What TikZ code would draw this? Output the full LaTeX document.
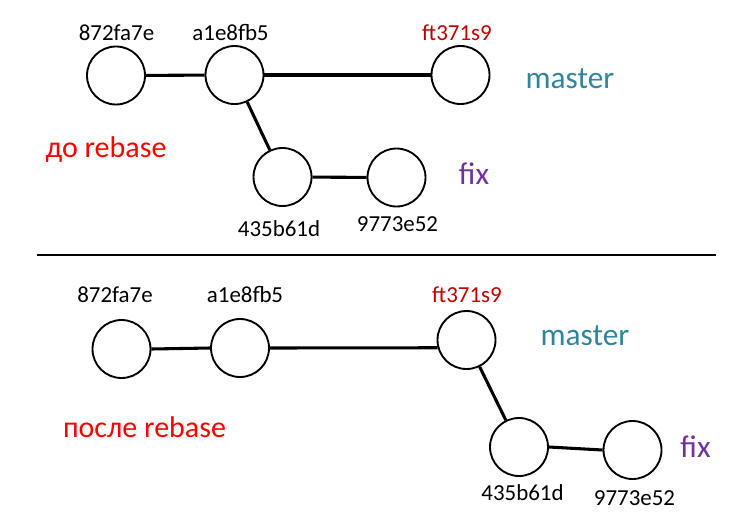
\documentclass[tikz,border=0pt]{standalone}
\usepackage{fontspec}
\setmainfont{Carlito}
\usetikzlibrary{positioning}
\definecolor{masterteal}{RGB}{49,133,155}
\definecolor{fixpurple}{RGB}{112,48,160}
\definecolor{headred}{RGB}{192,0,0}
\tikzset{
  commit/.style={circle, draw, line width=1.4pt, minimum size=43.5pt, inner sep=0pt},
  link/.style={line width=2.3pt},
  hash/.style={anchor=base, font=\fontsize{17.2}{19}\selectfont},
  branch/.style={anchor=base, font=\fontsize{23.5}{26}\selectfont},
  stage/.style={anchor=base, text=red, font=\fontsize{22.5}{25}\selectfont}
}
\begin{document}
\begin{tikzpicture}[x=0.75pt,y=0.75pt,yscale=-1,xscale=1]
\useasboundingbox (0,0) rectangle (734,525);

%Commits: before rebase
\node [commit] (b872) at (116,75.5) {};
\node [commit] (ba1e) at (234.5,75) {};
\node [commit] (bft) at (460.5,75) {};
\node [commit] (b435) at (282.5,177) {};
\node [commit] (b977) at (396.5,177.5) {};

%Commits: after rebase
\node [commit] (a872) at (121.5,349) {};
\node [commit] (aa1e) at (240,348) {};
\node [commit] (aft) at (466.5,340) {};
\node [commit] (a435) at (519,447) {};
\node [commit] (a977) at (632.5,450) {};

%Straight Lines
\draw [link] (ba1e) -- (b872) ;
\draw [link] (bft) -- (ba1e) ;
\draw [link] (b435) -- (ba1e) ;
\draw [link] (b977) -- (b435) ;
\draw [link] (aa1e.west) -- (a872.east) ;
\draw [link] (aft.195) -- (aa1e.east) ;
\draw [link] (a435) -- (aft) ;
\draw [link] (a977.west) -- (a435.east) ;

%Separator
\coordinate (sepL) at (37,255) ;
\coordinate (sepR) at (716,255) ;
\draw [line width=0.9pt] (sepL) -- (sepR) ;

% Text Node
\node [hash] (tb872) at (116.5,40) {872fa7e};
\node [hash] (tba1e) at (230.5,40) {a1e8fb5};
\node [hash, text=headred] (tbft) at (457,40) {ft371s9};
\node [hash] (tb435) at (279,236) {435b61d};
\node [hash] (tb977) at (397.5,231) {9773e52};
\node [branch, text=masterteal] (tbmaster) at (570,88) {master};
\node [branch, text=fixpurple] (tbfix) at (474,184) {fix};
\node [stage] (tbefore) at (106,157) {до rebase};

% Text Node
\node [hash] (ta872) at (115,302) {872fa7e};
\node [hash] (taa1e) at (245,302) {a1e8fb5};
\node [hash, text=headred] (taft) at (467,302) {ft371s9};
\node [hash] (ta435) at (522.5,500) {435b61d};
\node [hash] (ta977) at (634.5,505) {9773e52};
\node [branch, text=masterteal] (tamaster) at (585,345) {master};
\node [branch, text=fixpurple] (tafix) at (695.5,457) {fix};
\node [stage] (tafter) at (144.5,437) {после rebase};

\end{tikzpicture}
\end{document}
